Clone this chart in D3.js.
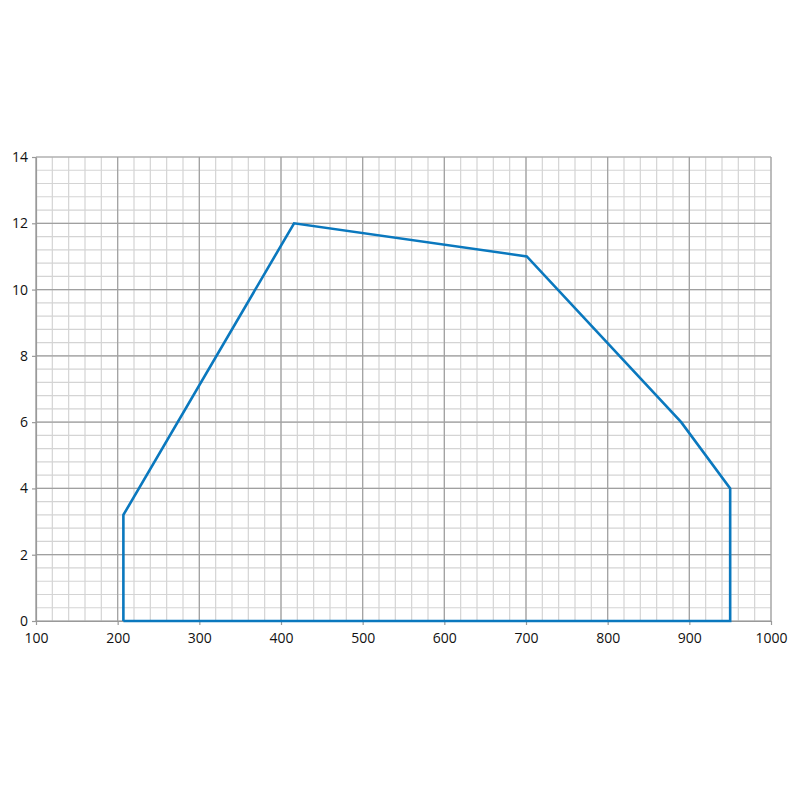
<!DOCTYPE html>
<html><head><meta charset="utf-8">
<script src="https://cdn.jsdelivr.net/npm/d3@7"></script>
<style>body{margin:0;background:#fff}</style>
</head><body>
<svg id="c" width="800" height="800"></svg>
<script>
const xValues = [207, 207, 416, 701, 890, 950, 950, 207];
const yValues = [0, 3.2, 12, 11, 6, 4, 0, 0];
const xTicks = [100, 200, 300, 400, 500, 600, 700, 800, 900, 1000];
const yTicks = [0, 2, 4, 6, 8, 10, 12, 14];

const svg = d3.select("#c");
const L = 36, R = 771, T = 157, B = 621;
const x = d3.scaleLinear().domain([100, 1000]).range([L, R]);
const y = d3.scaleLinear().domain([0, 14]).range([B, T]);

const g = svg.append("g");
// minor grid
const minorX = d3.range(100, 1000.1, 20);
const minorY = d3.range(0, 14.01, 0.4);
g.selectAll(".mx").data(minorX).join("line")
  .attr("x1", d => x(d)).attr("x2", d => x(d)).attr("y1", T).attr("y2", B)
  .attr("stroke", "#d4d4d4").attr("stroke-width", 1.2);
g.selectAll(".my").data(minorY).join("line")
  .attr("x1", L).attr("x2", R).attr("y1", d => y(d)).attr("y2", d => y(d))
  .attr("stroke", "#d4d4d4").attr("stroke-width", 1.2);
// major grid
g.selectAll(".Mx").data(xTicks).join("line")
  .attr("x1", d => x(d)).attr("x2", d => x(d)).attr("y1", T).attr("y2", B)
  .attr("stroke", "#a0a0a0").attr("stroke-width", 1.2);
g.selectAll(".My").data(yTicks).join("line")
  .attr("x1", L).attr("x2", R).attr("y1", d => y(d)).attr("y2", d => y(d))
  .attr("stroke", "#a0a0a0").attr("stroke-width", 1.2);

// axes
const xa = svg.append("g").attr("transform", `translate(0,${B})`)
  .call(d3.axisBottom(x).tickValues(xTicks).tickSize(4).tickSizeOuter(0).tickFormat(d3.format("d")));
const ya = svg.append("g").attr("transform", `translate(${L},0)`)
  .call(d3.axisLeft(y).tickValues(yTicks).tickSize(4).tickSizeOuter(0).tickFormat(d3.format("d")));
[xa, ya].forEach(a => {
  a.select(".domain").attr("stroke", "#999").attr("stroke-width", 1.2);
  a.selectAll(".tick line").attr("stroke", "#999").attr("stroke-width", 1.2);
  a.selectAll("text").attr("font-family", "'Open Sans', sans-serif").attr("font-size", 14).attr("fill", "#111");
});
xa.selectAll("text").attr("dy", "1.05em");
ya.selectAll("text").attr("x", -8);

// line
const pts = xValues.map((v, i) => [v, yValues[i]]);
svg.append("path").datum(pts)
  .attr("d", d3.line().x(d => x(d[0])).y(d => y(d[1])))
  .attr("fill", "none").attr("stroke", "#0a78be").attr("stroke-width", 2.6)
  .attr("stroke-linejoin", "miter");
</script>
</body></html>
